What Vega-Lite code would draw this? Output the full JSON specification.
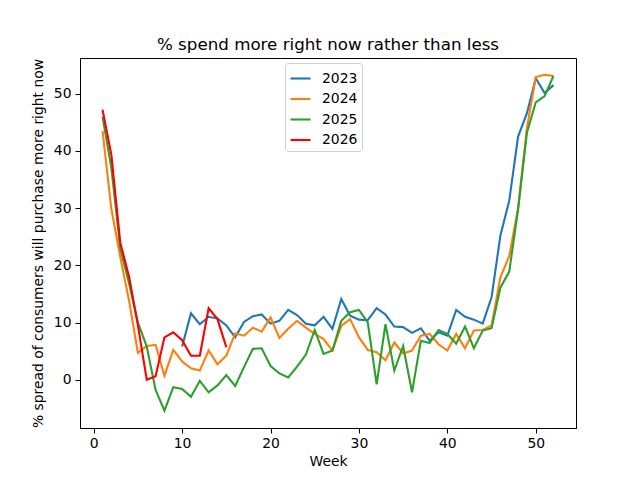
{
  "$schema": "https://vega.github.io/schema/vega-lite/v6.json",
  "width": 496,
  "height": 370,
  "autosize": {"type": "none"},
  "padding": {"left": 80, "top": 58, "right": 64, "bottom": 52},
  "config": {
    "font": "DejaVu Sans",
    "view": {"stroke": "black", "strokeWidth": 1},
    "axis": {
      "grid": false,
      "domainColor": "black",
      "tickColor": "black",
      "tickSize": 5,
      "labelColor": "black",
      "labelFontSize": 13.9,
      "titleColor": "black",
      "titleFontSize": 13.9,
      "titleFontWeight": "normal"
    }
  },
  "title": {
    "text": "% spend more right now rather than less",
    "fontSize": 16.7,
    "fontWeight": "normal",
    "color": "black",
    "anchor": "middle",
    "baseline": "alphabetic",
    "offset": -9
  },
  "data": {
    "values": [
      {"week": 10, "year": "2023", "value": 5.8},
      {"week": 11, "year": "2023", "value": 11.6},
      {"week": 12, "year": "2023", "value": 9.7},
      {"week": 13, "year": "2023", "value": 11.0},
      {"week": 14, "year": "2023", "value": 10.7},
      {"week": 15, "year": "2023", "value": 9.5},
      {"week": 16, "year": "2023", "value": 7.4},
      {"week": 17, "year": "2023", "value": 10.1},
      {"week": 18, "year": "2023", "value": 11.1},
      {"week": 19, "year": "2023", "value": 11.4},
      {"week": 20, "year": "2023", "value": 9.8},
      {"week": 21, "year": "2023", "value": 10.3},
      {"week": 22, "year": "2023", "value": 12.2},
      {"week": 23, "year": "2023", "value": 11.3},
      {"week": 24, "year": "2023", "value": 9.8},
      {"week": 25, "year": "2023", "value": 9.5},
      {"week": 26, "year": "2023", "value": 11.0},
      {"week": 27, "year": "2023", "value": 8.9},
      {"week": 28, "year": "2023", "value": 14.1},
      {"week": 29, "year": "2023", "value": 11.2},
      {"week": 30, "year": "2023", "value": 10.5},
      {"week": 31, "year": "2023", "value": 10.4},
      {"week": 32, "year": "2023", "value": 12.5},
      {"week": 33, "year": "2023", "value": 11.4},
      {"week": 34, "year": "2023", "value": 9.3},
      {"week": 35, "year": "2023", "value": 9.2},
      {"week": 36, "year": "2023", "value": 8.2},
      {"week": 37, "year": "2023", "value": 9.0},
      {"week": 38, "year": "2023", "value": 6.8},
      {"week": 39, "year": "2023", "value": 8.3},
      {"week": 40, "year": "2023", "value": 7.7},
      {"week": 41, "year": "2023", "value": 12.2},
      {"week": 42, "year": "2023", "value": 11.0},
      {"week": 43, "year": "2023", "value": 10.5},
      {"week": 44, "year": "2023", "value": 9.8},
      {"week": 45, "year": "2023", "value": 14.4},
      {"week": 46, "year": "2023", "value": 25.2},
      {"week": 47, "year": "2023", "value": 31.3},
      {"week": 48, "year": "2023", "value": 42.5},
      {"week": 49, "year": "2023", "value": 46.6},
      {"week": 50, "year": "2023", "value": 52.7},
      {"week": 51, "year": "2023", "value": 50.1},
      {"week": 52, "year": "2023", "value": 51.5},
      {"week": 1, "year": "2024", "value": 43.5},
      {"week": 2, "year": "2024", "value": 29.8},
      {"week": 3, "year": "2024", "value": 21.5},
      {"week": 4, "year": "2024", "value": 13.8},
      {"week": 5, "year": "2024", "value": 4.7},
      {"week": 6, "year": "2024", "value": 5.9},
      {"week": 7, "year": "2024", "value": 6.1},
      {"week": 8, "year": "2024", "value": 0.7},
      {"week": 9, "year": "2024", "value": 5.2},
      {"week": 10, "year": "2024", "value": 3.2},
      {"week": 11, "year": "2024", "value": 2.0},
      {"week": 12, "year": "2024", "value": 1.6},
      {"week": 13, "year": "2024", "value": 5.1},
      {"week": 14, "year": "2024", "value": 2.7},
      {"week": 15, "year": "2024", "value": 4.2},
      {"week": 16, "year": "2024", "value": 8.1},
      {"week": 17, "year": "2024", "value": 7.7},
      {"week": 18, "year": "2024", "value": 9.1},
      {"week": 19, "year": "2024", "value": 8.4},
      {"week": 20, "year": "2024", "value": 10.9},
      {"week": 21, "year": "2024", "value": 7.3},
      {"week": 22, "year": "2024", "value": 8.9},
      {"week": 23, "year": "2024", "value": 10.3},
      {"week": 24, "year": "2024", "value": 9.1},
      {"week": 25, "year": "2024", "value": 8.0},
      {"week": 26, "year": "2024", "value": 7.1},
      {"week": 27, "year": "2024", "value": 5.1},
      {"week": 28, "year": "2024", "value": 9.4},
      {"week": 29, "year": "2024", "value": 10.6},
      {"week": 30, "year": "2024", "value": 7.4},
      {"week": 31, "year": "2024", "value": 5.2},
      {"week": 32, "year": "2024", "value": 4.8},
      {"week": 33, "year": "2024", "value": 3.4},
      {"week": 34, "year": "2024", "value": 6.5},
      {"week": 35, "year": "2024", "value": 4.6},
      {"week": 36, "year": "2024", "value": 5.1},
      {"week": 37, "year": "2024", "value": 7.7},
      {"week": 38, "year": "2024", "value": 8.0},
      {"week": 39, "year": "2024", "value": 6.2},
      {"week": 40, "year": "2024", "value": 5.1},
      {"week": 41, "year": "2024", "value": 8.0},
      {"week": 42, "year": "2024", "value": 5.5},
      {"week": 43, "year": "2024", "value": 8.6},
      {"week": 44, "year": "2024", "value": 8.7},
      {"week": 45, "year": "2024", "value": 9.5},
      {"week": 46, "year": "2024", "value": 17.9},
      {"week": 47, "year": "2024", "value": 21.6},
      {"week": 48, "year": "2024", "value": 30.0},
      {"week": 49, "year": "2024", "value": 44.0},
      {"week": 50, "year": "2024", "value": 52.9},
      {"week": 51, "year": "2024", "value": 53.3},
      {"week": 52, "year": "2024", "value": 53.1},
      {"week": 1, "year": "2025", "value": 46.0},
      {"week": 2, "year": "2025", "value": 37.0},
      {"week": 3, "year": "2025", "value": 23.0},
      {"week": 4, "year": "2025", "value": 16.8},
      {"week": 5, "year": "2025", "value": 10.0},
      {"week": 6, "year": "2025", "value": 5.8},
      {"week": 7, "year": "2025", "value": -1.8},
      {"week": 8, "year": "2025", "value": -5.4},
      {"week": 9, "year": "2025", "value": -1.3},
      {"week": 10, "year": "2025", "value": -1.6},
      {"week": 11, "year": "2025", "value": -3.0},
      {"week": 12, "year": "2025", "value": -0.2},
      {"week": 13, "year": "2025", "value": -2.2},
      {"week": 14, "year": "2025", "value": -1.0},
      {"week": 15, "year": "2025", "value": 0.8},
      {"week": 16, "year": "2025", "value": -1.1},
      {"week": 17, "year": "2025", "value": 2.2},
      {"week": 18, "year": "2025", "value": 5.4},
      {"week": 19, "year": "2025", "value": 5.5},
      {"week": 20, "year": "2025", "value": 2.4},
      {"week": 21, "year": "2025", "value": 1.1},
      {"week": 22, "year": "2025", "value": 0.4},
      {"week": 23, "year": "2025", "value": 2.3},
      {"week": 24, "year": "2025", "value": 4.4},
      {"week": 25, "year": "2025", "value": 8.7},
      {"week": 26, "year": "2025", "value": 4.5},
      {"week": 27, "year": "2025", "value": 5.1},
      {"week": 28, "year": "2025", "value": 10.3},
      {"week": 29, "year": "2025", "value": 11.8},
      {"week": 30, "year": "2025", "value": 12.2},
      {"week": 31, "year": "2025", "value": 10.0},
      {"week": 32, "year": "2025", "value": -0.8},
      {"week": 33, "year": "2025", "value": 9.7},
      {"week": 34, "year": "2025", "value": 1.6},
      {"week": 35, "year": "2025", "value": 5.9},
      {"week": 36, "year": "2025", "value": -2.2},
      {"week": 37, "year": "2025", "value": 6.8},
      {"week": 38, "year": "2025", "value": 6.4},
      {"week": 39, "year": "2025", "value": 8.7},
      {"week": 40, "year": "2025", "value": 8.0},
      {"week": 41, "year": "2025", "value": 6.3},
      {"week": 42, "year": "2025", "value": 9.3},
      {"week": 43, "year": "2025", "value": 5.5},
      {"week": 44, "year": "2025", "value": 8.6},
      {"week": 45, "year": "2025", "value": 9.0},
      {"week": 46, "year": "2025", "value": 16.1},
      {"week": 47, "year": "2025", "value": 18.9},
      {"week": 48, "year": "2025", "value": 29.8},
      {"week": 49, "year": "2025", "value": 43.2},
      {"week": 50, "year": "2025", "value": 48.5},
      {"week": 51, "year": "2025", "value": 49.6},
      {"week": 52, "year": "2025", "value": 53.1},
      {"week": 1, "year": "2026", "value": 47.2},
      {"week": 2, "year": "2026", "value": 39.3},
      {"week": 3, "year": "2026", "value": 24.0},
      {"week": 4, "year": "2026", "value": 18.0},
      {"week": 5, "year": "2026", "value": 9.5},
      {"week": 6, "year": "2026", "value": 0.0},
      {"week": 7, "year": "2026", "value": 0.6},
      {"week": 8, "year": "2026", "value": 7.4},
      {"week": 9, "year": "2026", "value": 8.3},
      {"week": 10, "year": "2026", "value": 6.9},
      {"week": 11, "year": "2026", "value": 4.2},
      {"week": 12, "year": "2026", "value": 4.2},
      {"week": 13, "year": "2026", "value": 12.5},
      {"week": 14, "year": "2026", "value": 10.6},
      {"week": 15, "year": "2026", "value": 5.7}
    ]
  },
  "mark": {"type": "line", "strokeWidth": 2.1},
  "encoding": {
    "x": {
      "field": "week",
      "type": "quantitative",
      "title": "Week",
      "scale": {"domain": [-1.55, 54.55], "nice": false, "zero": false},
      "axis": {"values": [0, 10, 20, 30, 40, 50], "labelPadding": 3, "titlePadding": 5, "labelFlush": false}
    },
    "y": {
      "field": "value",
      "type": "quantitative",
      "title": "% spread of consumers will purchase more right now",
      "scale": {"domain": [-8.44, 56.24], "nice": false, "zero": false},
      "axis": {"values": [0, 10, 20, 30, 40, 50], "labelPadding": 4, "titlePadding": 8, "labelFlush": false}
    },
    "color": {
      "field": "year",
      "type": "nominal",
      "scale": {
        "domain": ["2023", "2024", "2025", "2026"],
        "range": ["#1f77b4", "#ff7f0e", "#2ca02c", "#ff0000"]
      },
      "legend": {
        "title": null,
        "orient": "none",
        "legendX": 205,
        "legendY": 5,
        "symbolType": "stroke",
        "symbolSize": 400,
        "symbolStrokeWidth": 2.1,
        "labelFontSize": 13.9,
        "labelColor": "black",
        "labelOffset": 10,
        "rowPadding": 1.5,
        "padding": 4,
        "strokeColor": "#d0d0d0",
        "fillColor": "white",
        "cornerRadius": 3
      }
    }
  }
}
